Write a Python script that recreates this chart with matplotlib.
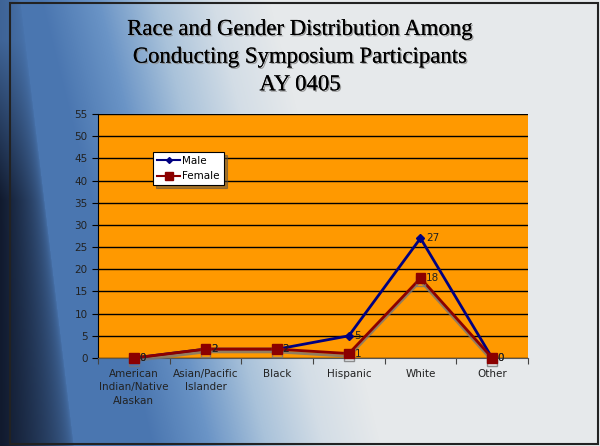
import matplotlib.pyplot as plt
import matplotlib.patheffects as pe
import numpy as np
from matplotlib.colors import LinearSegmentedColormap, to_rgb

categories = ["American\nIndian/Native\nAlaskan", "Asian/Pacific\nIslander", "Black",
              "Hispanic", "White", "Other"]
male = [0, 2, 2, 5, 27, 0]
female = [0, 2, 2, 1, 18, 0]
yticks = list(range(0, 56, 5))

fig = plt.figure(figsize=(6, 4.46), dpi=100)

# slide background: blue on the left, light grey to the right, navy in the lower-left
bg = fig.add_axes([0, 0, 1, 1], zorder=-10)
bg.set_axis_off()
h, w = 446, 600
yy, xx = np.mgrid[0:h, 0:w]
t = np.clip((xx - 0.25 * yy - 40) / 230, 0, 1)
cmap = LinearSegmentedColormap.from_list("bg", ["#4a76b0", "#6a94c6", "#a9c2da", "#d3dde6", "#e6e9eb"])
img = cmap(t)[..., :3]
dark = np.clip(1 - xx / (20 + 0.12 * yy), 0, 1) ** 0.5 * np.clip(yy / 200, 0.2, 1)
navy = np.array(to_rgb("#111a2e"))
img = img * (1 - dark[..., None]) + navy * dark[..., None]
bg.imshow(img, aspect="auto", extent=[0, 1, 0, 1], origin="upper")
bg.add_patch(plt.Rectangle((0.017, 0.005), 0.98, 0.988, fill=False, lw=1.5,
                           ec="#222222", transform=bg.transAxes))
bg.set_xlim(0, 1)
bg.set_ylim(0, 1)

title = "Race and Gender Distribution Among\nConducting Symposium Participants\nAY 0405"
fig.text(0.5, 0.872, title, ha="center", va="center", fontsize=16.4,
         family="Liberation Serif", color="black", linespacing=1.42,
         path_effects=[pe.withSimplePatchShadow(offset=(1, -1), shadow_rgbFace="#888888", alpha=0.8),
                       pe.Normal()])

ax = fig.add_axes([98 / 600, 1 - 358 / 446, 430 / 600, 244 / 446])
ax.set_facecolor("#ff9900")
x = np.arange(len(categories))
ax.set_xlim(-0.5, len(categories) - 0.5)
ax.set_ylim(0, 55)
ax.set_yticks(yticks)
ax.yaxis.grid(True, color="black", lw=1)
ax.set_axisbelow(True)
for s in ["top", "right"]:
    ax.spines[s].set_visible(False)
ax.spines["left"].set_color("black")
ax.spines["bottom"].set_color("#555555")
ax.set_xticks(np.arange(len(categories) + 1) - 0.5, minor=False)
ax.set_xticklabels([])
ax.set_xticks(x, minor=True)
ax.set_xticklabels(categories, minor=True, fontsize=7.5, color="#222222", linespacing=1.4)
ax.tick_params(axis="x", which="minor", length=0, pad=8)
ax.tick_params(axis="x", which="major", length=4, direction="out", color="#444444")
ax.tick_params(axis="y", labelsize=7.5, length=4, labelcolor="#222222")

shadow = [pe.SimpleLineShadow(offset=(0, -2), shadow_color="#777777", alpha=0.8), pe.Normal()]
ax.plot(x, male, color="#000080", lw=2, marker="D", ms=4, label="Male", zorder=3,
        clip_on=False)
ax.plot(x, female, color="#8b0000", lw=2, marker="s", ms=7, label="Female", zorder=4,
        clip_on=False, path_effects=shadow)

for xi, v in zip(x, male):
    ax.annotate(str(v), (xi, v), xytext=(4, 0), textcoords="offset points",
                va="center", fontsize=7.5, color="#222222", zorder=6)
for xi, v in zip(x, female):
    ax.annotate(str(v), (xi, v), xytext=(4, 0), textcoords="offset points",
                va="center", fontsize=7.5, color="#222222", zorder=6)

leg = ax.legend(loc="upper left", bbox_to_anchor=(0.128, 0.845), fontsize=7.5,
                frameon=True, fancybox=False, shadow=True, borderpad=0.4,
                handlelength=2.2, handletextpad=0.2, labelspacing=0.5, borderaxespad=0,
                markerscale=0.75)
leg.get_frame().set_edgecolor("black")
leg.get_frame().set_linewidth(0.8)
for line in leg.get_lines():
    line.set_linewidth(1.5)
    line.set_path_effects([])

fig.savefig("out.png", dpi=100)
